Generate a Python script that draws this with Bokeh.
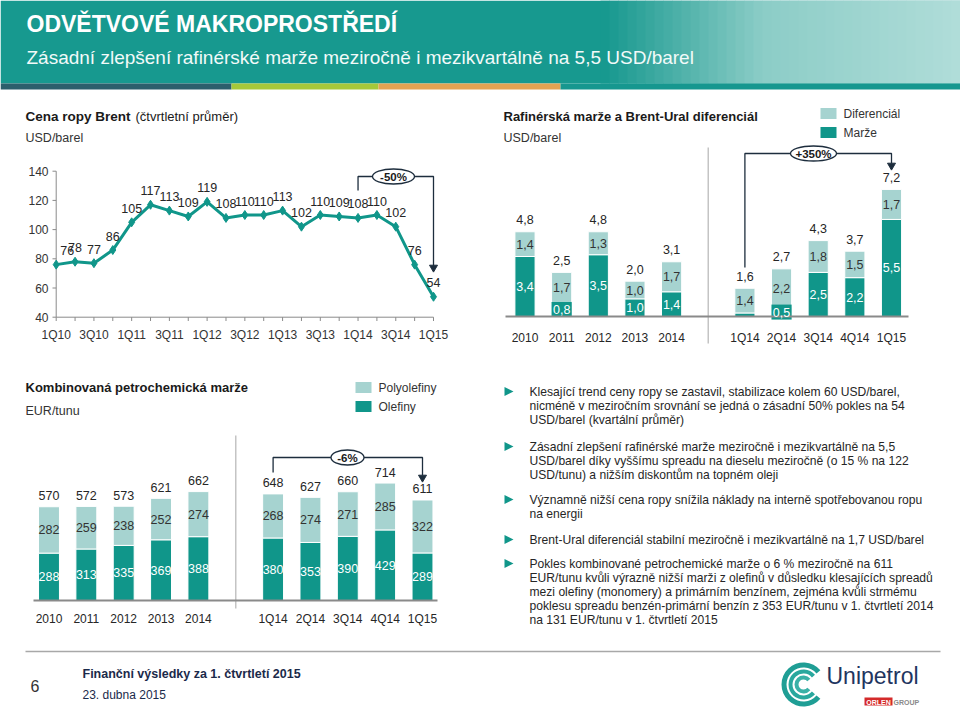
import numpy as np
from bokeh.plotting import figure
from bokeh.models import Range1d
from bokeh.layouts import column, row
from bokeh.core.properties import value
from bokeh.embed import file_html
from bokeh.resources import INLINE

# ---------------- data ----------------
brent_quarters = ["1Q10", "2Q10", "3Q10", "4Q10", "1Q11", "2Q11", "3Q11", "4Q11",
                  "1Q12", "2Q12", "3Q12", "4Q12", "1Q13", "2Q13", "3Q13", "4Q13",
                  "1Q14", "2Q14", "3Q14", "4Q14", "1Q15"]
brent_price = [76, 78, 77, 86, 105, 117, 113, 109, 119, 108, 110, 110, 113, 102,
               110, 109, 108, 110, 102, 76, 54]
brent_yticks = [40, 60, 80, 100, 120, 140]

years = ["2010", "2011", "2012", "2013", "2014"]
quarters = ["1Q14", "2Q14", "3Q14", "4Q14", "1Q15"]

ref_marze_years = [3.4, 0.8, 3.5, 1.0, 1.4]
ref_dif_years = [1.4, 1.7, 1.3, 1.0, 1.7]
ref_total_years = [4.8, 2.5, 4.8, 2.0, 3.1]
ref_marze_q = [0.2, 0.5, 2.5, 2.2, 5.5]
ref_dif_q = [1.4, 2.2, 1.8, 1.5, 1.7]
ref_total_q = [1.6, 2.7, 4.3, 3.7, 7.2]

petro_olef_years = [288, 313, 335, 369, 388]
petro_poly_years = [282, 259, 238, 252, 274]
petro_total_years = [570, 572, 573, 621, 662]
petro_olef_q = [380, 353, 390, 429, 289]
petro_poly_q = [268, 274, 271, 285, 322]
petro_total_q = [648, 627, 660, 714, 611]

bullets = [
    ["Klesající trend ceny ropy se zastavil, stabilizace kolem 60 USD/barel,",
     "nicméně v meziročním srovnání se jedná o zásadní 50% pokles na 54",
     "USD/barel (kvartální průměr)"],
    ["Zásadní zlepšení rafinérské marže meziročně i mezikvartálně na 5,5",
     "USD/barel díky vyššímu spreadu na dieselu meziročně (o 15 % na 122",
     "USD/tunu) a nižším diskontům na topném oleji"],
    ["Významně nižší cena ropy snížila náklady na interně spotřebovanou ropu",
     "na energii"],
    ["Brent-Ural diferenciál stabilní meziročně i mezikvartálně na 1,7 USD/barel"],
    ["Pokles kombinované petrochemické marže o 6 % meziročně na 611",
     "EUR/tunu kvůli výrazně nižší marži z olefinů v důsledku klesajících spreadů",
     "mezi olefiny (monomery) a primárním benzínem, zejména kvůli strmému",
     "poklesu spreadu benzén-primární benzín z 353 EUR/tunu v 1. čtvrtletí 2014",
     "na 131 EUR/tunu v 1. čtvrtletí 2015"],
]

# ---------------- style ----------------
FONT = "Liberation Sans"
DARK = "#10968a"
LIGHT = "#a6d3d0"
TXT = "#262626"
BRK = "#1d2d3d"
AX = "#8a8a8a"
HEAD = "#17998f"


class Panel:
    """A figure whose frame fills the whole canvas; ranges fitted so that
    data values land at given page positions."""

    def __init__(self, left, top, right, bottom, xa=(0, 0, 1, 1), ya=(0, 0, 1, 1)):
        self.xa, self.ya = xa, ya
        self.kx = (xa[2] - xa[0]) / (xa[3] - xa[1])
        self.ky = (ya[2] - ya[0]) / (ya[3] - ya[1])
        self.fig = figure(width=right - left, height=bottom - top,
                          x_range=Range1d(self.X(left), self.X(right)),
                          y_range=Range1d(self.Y(bottom), self.Y(top)),
                          output_backend="svg", toolbar_location=None,
                          min_border=0, x_axis_type=None, y_axis_type=None,
                          outline_line_color=None, background_fill_color="white",
                          border_fill_color="white")

    def X(self, s):
        return self.xa[0] + (s - self.xa[1]) * self.kx

    def Y(self, s):
        return self.ya[0] + (s - self.ya[1]) * self.ky


def text(P, x, y, s, size=12, color=TXT, align="left", bold=False,
         baseline="middle", xo=0, yo=0):
    if not isinstance(s, (list, tuple)):
        x, y, s = [x], [y], [s]
    P.fig.text(x=list(x), y=list(y), text=list(s), text_font=value(FONT),
               text_font_size=value(f"{size}px"), text_color=color,
               text_align=align, text_baseline=baseline,
               text_font_style="bold" if bold else "normal",
               x_offset=xo, y_offset=yo)


def fmt1(v):
    return f"{v:.1f}".replace(".", ",")


# ---------------- header ----------------
H = Panel(0, 0, 960, 98)
h = H.fig
h.quad(left=[0], right=[960], top=[0], bottom=[83], fill_color=HEAD, line_color=None)
grad_c0 = np.array([0x17, 0x99, 0x8f])
grad_c1 = np.array([0x8c, 0xcd, 0xc7])
grad_c2 = np.array([0xb0, 0xdd, 0xd9])
steps = 40
for i in range(steps):
    t = i / (steps - 1)
    if t < 0.45:
        c = grad_c0 + (grad_c1 - grad_c0) * (t / 0.45)
    else:
        c = grad_c1 + (grad_c2 - grad_c1) * ((t - 0.45) / 0.55)
    x0 = 600 + i * 9
    h.quad(left=[x0], right=[x0 + 9.5], top=[0], bottom=[83],
           fill_color="#%02x%02x%02x" % tuple(int(v) for v in c), line_color=None)
for l, r_, col in [(0, 231, "#2c5f6c"), (231, 378, "#a6c83a"),
                   (378, 560, "#e3a352"), (560, 960, "#16978f")]:
    h.quad(left=[l], right=[r_], top=[83], bottom=[89], fill_color=col, line_color=None)
text(H, 26, 23, "ODVĚTVOVÉ MAKROPROSTŘEDÍ", size=23, color="white", bold=True)
text(H, 26, 57, "Zásadní zlepšení rafinérské marže meziročně i mezikvartálně na 5,5 USD/barel",
     size=19, color="#f2faf9")

# ---------------- Brent line chart ----------------
B = Panel(0, 98, 480, 355, xa=(0, 55.7, 20, 433), ya=(40, 316.7, 140, 170.7))
b = B.fig
text(B, B.X(25), B.Y(116), "Cena ropy Brent", size=13.5, bold=True, color="#1a1a1a")
text(B, B.X(135), B.Y(116), "(čtvrtletní průměr)", size=13, color="#1a1a1a")
text(B, B.X(25), B.Y(137), "USD/barel", size=12.5, color="#333333")
xi = np.arange(len(brent_price))
# axes
b.segment(x0=[0], y0=[brent_yticks[0]], x1=[0], y1=[brent_yticks[-1]], line_color=AX, line_width=1)
b.segment(x0=[0], y0=[brent_yticks[0]], x1=[len(xi) - 1], y1=[brent_yticks[0]], line_color=AX, line_width=1)
b.segment(x0=[B.X(52)] * len(brent_yticks), y0=brent_yticks, x1=[0] * len(brent_yticks),
          y1=brent_yticks, line_color=AX, line_width=1)
b.segment(x0=list(xi), y0=[brent_yticks[0]] * len(xi), x1=list(xi),
          y1=[B.Y(320.5)] * len(xi), line_color=AX, line_width=1)
text(B, [B.X(48)] * len(brent_yticks), brent_yticks, [str(v) for v in brent_yticks],
     size=12, align="right", color="#333333")
text(B, list(xi[::2]), [B.Y(334)] * len(xi[::2]), brent_quarters[::2], size=12,
     align="center", color="#333333")
# series
b.line(x=xi, y=brent_price, line_color=DARK, line_width=3)
b.scatter(x=xi, y=brent_price, marker="diamond", size=9, color=DARK)
xo = [11 if i == 0 else 0 for i in range(len(xi))]
b.text(x=xi, y=brent_price, text=[str(v) for v in brent_price], text_font=value(FONT),
       text_font_size=value("12.5px"), text_color=TXT, text_align="center",
       text_baseline="middle", x_offset=xo, y_offset=-14)
# -50% bracket
i0, i1 = brent_quarters.index("1Q14"), brent_quarters.index("1Q15")
ytop = B.Y(176)
b.line(x=[i0, i0, i1, i1], y=[B.Y(190), ytop, ytop, B.Y(266)], line_color=BRK, line_width=1.3)
b.scatter(x=[i1], y=[B.Y(267)], marker="inverted_triangle", size=8, color=BRK)
b.ellipse(x=[B.X(393)], y=[ytop], width=[42 * B.kx], height=[15 * abs(B.ky)],
          fill_color="white", line_color=BRK, line_width=1.3)
text(B, B.X(393), ytop, "-50%", size=11.5, bold=True, align="center", color="#1a1a1a")


# ---------------- stacked bar helper ----------------
def bars(P, cats_y, cats_q, lo_y, hi_y, tot_y, lo_q, hi_q, tot_q, fmt, lo_min,
         top_label, div_top, div_bot, axis_l, axis_r, xlab_y, bw):
    p = P.fig
    xy = np.arange(len(cats_y))
    xq = np.arange(len(cats_q)) + len(cats_y) + 1
    xs = np.concatenate([xy, xq])
    lo = np.array(lo_y + lo_q, dtype=float)
    hi = np.array(hi_y + hi_q, dtype=float)
    tot = tot_y + tot_q
    p.segment(x0=[len(cats_y)], y0=[P.Y(div_top)], x1=[len(cats_y)], y1=[P.Y(div_bot)],
              line_color="#c4c4c4", line_width=1.5)
    p.vbar(x=xs, width=bw, bottom=0, top=lo, fill_color=DARK, line_color="white", line_width=1)
    p.vbar(x=xs, width=bw, bottom=lo, top=lo + hi, fill_color=LIGHT, line_color="white", line_width=1)
    keep = [i for i in range(len(xs)) if lo[i] >= lo_min]
    # small dark segments get a label box like the original
    half = 7.5 * abs(P.ky)
    small = [i for i in keep if lo[i] < 2 * half]
    if small:
        p.quad(left=[xs[i] - bw / 2 for i in small], right=[xs[i] + bw / 2 for i in small],
               bottom=[lo[i] / 2 - half for i in small], top=[lo[i] / 2 + half for i in small],
               fill_color=DARK, line_color=None)
    p.segment(x0=[P.X(axis_l)], y0=[0], x1=[P.X(axis_r)], y1=[0], line_color=AX, line_width=2)
    text(P, [xs[i] for i in keep], [lo[i] / 2 for i in keep], [fmt(lo[i]) for i in keep],
         size=12.5, color="white", align="center")
    text(P, list(xs), list(lo + hi / 2), [fmt(v) for v in hi], size=12.5, color="#333333",
         align="center")
    text(P, list(xs), list(lo + hi), [fmt(v) for v in tot], size=12.5, color=TXT,
         align="center", yo=-top_label)
    text(P, list(xs), [P.Y(xlab_y)] * len(xs), cats_y + cats_q, size=12, color=TXT,
         align="center")
    return xs


def legend(P, x, y0, y1, labels):
    p = P.fig
    for (yy, lab, col) in [(y0, labels[0], LIGHT), (y1, labels[1], DARK)]:
        p.quad(left=[P.X(x)], right=[P.X(x + 16)], top=[P.Y(yy - 5.5)], bottom=[P.Y(yy + 5.5)],
               fill_color=col, line_color=None)
        text(P, P.X(x + 23), P.Y(yy), lab, size=12, color="#333333")


# ---------------- refining margin chart ----------------
R = Panel(480, 98, 960, 355, xa=(0, 524.5, 10, 891), ya=(0, 316, 10, 139.5))
text(R, R.X(503), R.Y(116), "Rafinérská marže a Brent-Ural diferenciál", size=13, bold=True,
     color="#1a1a1a")
text(R, R.X(503), R.Y(137), "USD/barel", size=12.5, color="#333333")
legend(R, 820, 113, 132, ["Diferenciál", "Marže"])
bars(R, years, quarters, ref_marze_years, ref_dif_years, ref_total_years,
     ref_marze_q, ref_dif_q, ref_total_q, fmt1, 0.5, 12, 147, 343, 505, 908, 337, 0.55)
r = R.fig
q0, q1 = len(years) + 1, len(years) + len(quarters)
ytop = R.Y(153)
r.line(x=[q0, q0, q1, q1], y=[R.Y(267), ytop, ytop, R.Y(163)], line_color=BRK, line_width=1.3)
r.scatter(x=[q1], y=[R.Y(165)], marker="inverted_triangle", size=8, color=BRK)
r.ellipse(x=[R.X(813)], y=[ytop], width=[46 * R.kx], height=[15 * abs(R.ky)],
          fill_color="white", line_color=BRK, line_width=1.3)
text(R, R.X(813), ytop, "+350%", size=11.5, bold=True, align="center", color="#1a1a1a")

# ---------------- petrochemical margin chart ----------------
P = Panel(0, 355, 480, 640, xa=(0, 48.5, 10, 422), ya=(0, 600, 1000, 435.5))
text(P, P.X(25), P.Y(387), "Kombinovaná petrochemická marže", size=13, bold=True, color="#1a1a1a")
text(P, P.X(25), P.Y(410), "EUR/tunu", size=12.5, color="#333333")
legend(P, 355, 387, 406, ["Polyolefiny", "Olefiny"])
bars(P, years, quarters, petro_olef_years, petro_poly_years, petro_total_years,
     petro_olef_q, petro_poly_q, petro_total_q, lambda v: str(int(round(v))), 1, 11,
     435, 608, 33, 437, 618, 0.56)
pp = P.fig
ytop = P.Y(457)
pp.line(x=[q0, q0, q1, q1], y=[P.Y(472), ytop, ytop, P.Y(475)], line_color=BRK, line_width=1.3)
pp.scatter(x=[q1], y=[P.Y(477)], marker="inverted_triangle", size=8, color=BRK)
pp.ellipse(x=[P.X(347)], y=[ytop], width=[33 * P.kx], height=[15 * abs(P.ky)],
           fill_color="white", line_color=BRK, line_width=1.3)
text(P, P.X(347), ytop, "-6%", size=11.5, bold=True, align="center", color="#1a1a1a")

# ---------------- bullet text ----------------
T = Panel(480, 355, 960, 640)
t = T.fig
bullet_top = [391, 446, 499, 539, 563]
line_h = 14
for y0, lines in zip(bullet_top, bullets):
    t.patches(xs=[[504, 513, 504]], ys=[[y0 - 4.5, y0, y0 + 4.5]], fill_color=DARK, line_color=None)
    ys = [y0 + k * line_h for k in range(len(lines))]
    text(T, [529] * len(lines), ys, lines, size=12.1, color=TXT)

# ---------------- footer ----------------
F = Panel(0, 640, 960, 711)
f = F.fig
f.segment(x0=[25], y0=[651], x1=[940], y1=[651], line_color="#a8a8a8", line_width=1.5)
text(F, 30, 685, "6", size=16, color="#333333")
text(F, 82, 673, "Finanční výsledky za 1. čtvrtletí 2015", size=12.5, bold=True, color="#1b2a4a")
text(F, 82, 694, "23. dubna 2015", size=12, color="#1b2a4a")
for r_in, r_out, col in [(17, 22, "#1f9e95"), (11, 15, "#2aa89e"), (5, 9, "#3bb1a7")]:
    f.annular_wedge(x=[803], y=[684], inner_radius=r_in, outer_radius=r_out,
                    start_angle=np.deg2rad(40), end_angle=np.deg2rad(320),
                    fill_color=col, line_color=None)
text(F, 826, 675, "Unipetrol", size=23, color="#1f3560")
f.quad(left=[864], right=[892], top=[697], bottom=[705], fill_color="#d42a2a", line_color=None)
text(F, 878, 701.5, "ORLEN", size=7, bold=True, color="white", align="center")
text(F, 893, 701.5, "GROUP", size=7, bold=True, color="#8a8a8a")

layout = column(H.fig, row(B.fig, R.fig), row(P.fig, T.fig), F.fig)
open("out.html", "w").write(file_html(layout, INLINE))
